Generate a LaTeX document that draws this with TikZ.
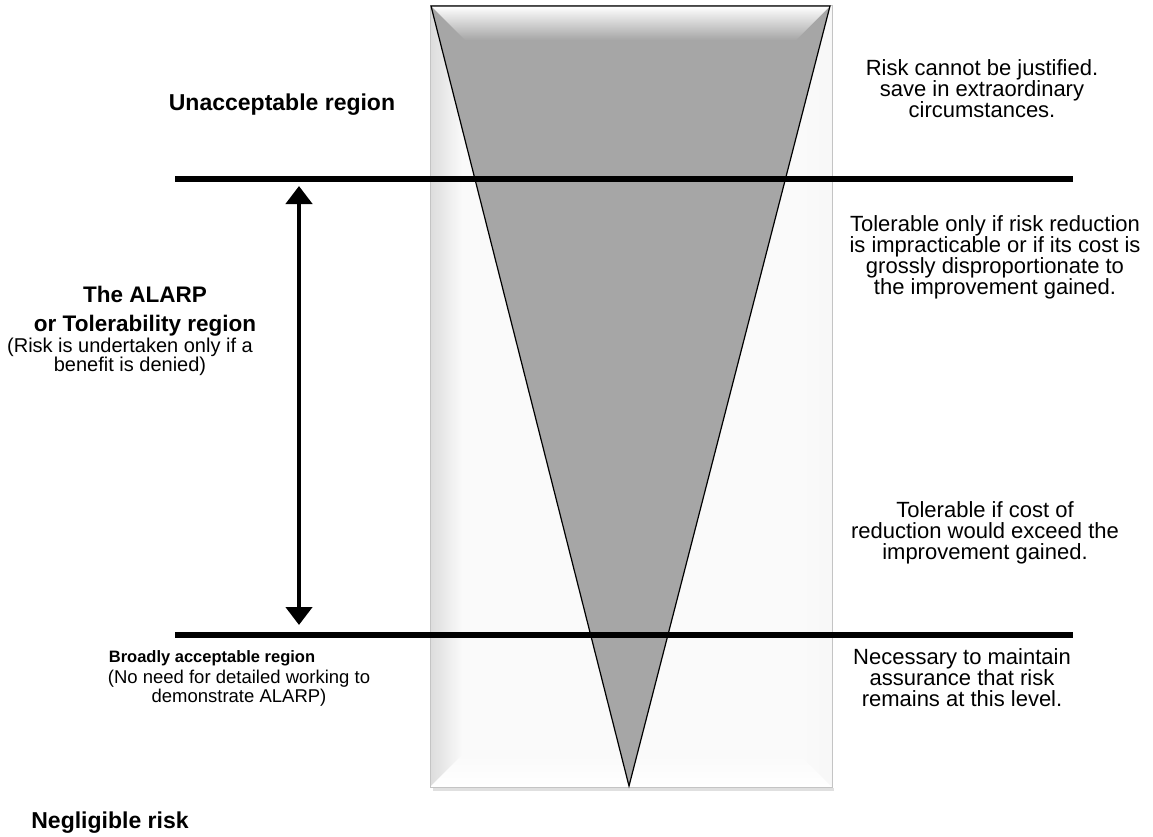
\documentclass[tikz,border=0pt]{standalone}
\usepackage{fontspec}
\setmainfont{Liberation Sans}
\usetikzlibrary{arrows.meta}
\definecolor{panel}{HTML}{FAFAFA}
\definecolor{paneledge}{HTML}{C4C4C4}
\definecolor{bevel}{HTML}{DCDCDC}
\definecolor{wedge}{HTML}{A6A6A6}
\begin{document}
\begin{tikzpicture}[x=1pt,y=-1pt,
  txt/.style={inner sep=0pt,align=center,font=\fontsize{22}{21}\selectfont},
  head/.style={inner sep=0pt,align=center,font=\fontsize{23}{24}\selectfont\bfseries},
  small/.style={inner sep=0pt,align=center,font=\fontsize{20}{18}\selectfont},
  note/.style={inner sep=0pt,align=center,font=\fontsize{18.5}{19.5}\selectfont},
  divider/.style={line width=5.5pt},
  span/.style={line width=4.5pt,{Triangle[width=26pt,length=18pt]}-{Triangle[width=26pt,length=18pt]}}]
\useasboundingbox (0,0) rectangle (1153,837);

% bevelled panel behind the wedge
\fill[black!12] (433,788) rectangle (834,791);
\fill[panel] (430,6) rectangle (832,787);
\shade[left color=bevel,right color=panel] (430,6) -- (462,38) -- (462,755) -- (430,787) -- cycle;
\shade[bottom color=white,top color=panel] (430,787) -- (462,755) -- (800,755) -- (832,787) -- cycle;
\shade[left color=panel,right color=black!3] (832,6) -- (800,38) -- (800,755) -- (832,787) -- cycle;
\draw[paneledge,line width=1pt] (430,6) rectangle (832,787);

% risk wedge with its bevelled top
\coordinate (tl) at (431,6);
\coordinate (tr) at (830,6);
\coordinate (apex) at (629,786);
\fill[wedge] (tl) -- (tr) -- (apex) -- cycle;
\begin{scope}
  \clip (tl) -- (tr) -- (apex) -- cycle;
  \shade[top color=white,bottom color=wedge] (431,6) -- (830,6) -- (796,40) -- (465,40) -- cycle;
\end{scope}
\draw[line width=1.2pt,line join=miter] (tl) -- (tr) -- (apex) -- cycle;

% region boundaries
\coordinate (upL) at (175,179);
\coordinate (upR) at (1073,179);
\coordinate (loL) at (175,635);
\coordinate (loR) at (1073,635);
\draw[divider] (upL) -- (upR);
\draw[divider] (loL) -- (loR);

% extent of the tolerability region
\coordinate (spanTop) at (299,186);
\coordinate (spanBot) at (299,625);
\draw[span] (spanTop) -- (spanBot);

% left-hand labels
\node[head] (unacc) at (282,105) {Unacceptable region};
\node[head,font=\fontsize{22.5}{24}\selectfont\bfseries] (alarp) at (145,294) {The ALARP};
\node[head,font=\fontsize{22.5}{24}\selectfont\bfseries] (toler) at (145,326) {or Tolerability region};
\node[small] (benefit) at (130,357) {(Risk is undertaken only if a\\benefit is denied)};
\node[head,font=\fontsize{16.5}{18}\selectfont\bfseries] (broad) at (212,658) {Broadly acceptable region};
\node[note] (noneed) at (239,688) {(No need for detailed working to\\demonstrate ALARP)};
\node[head] (neglig) at (110,823) {Negligible risk};

% right-hand explanations
\node[txt] (cannot) at (982,89) {Risk cannot be justified.\\save in extraordinary\\circumstances.};
\node[txt] (only) at (995,257) {Tolerable only if risk reduction\\is impracticable or if its cost is\\grossly disproportionate to\\the improvement gained.};
\node[txt] (costof) at (985,533) {Tolerable if cost of\\reduction would exceed the\\improvement gained.};
\node[txt] (maintain) at (962,678) {Necessary to maintain\\assurance that risk\\remains at this level.};
\end{tikzpicture}
\end{document}
